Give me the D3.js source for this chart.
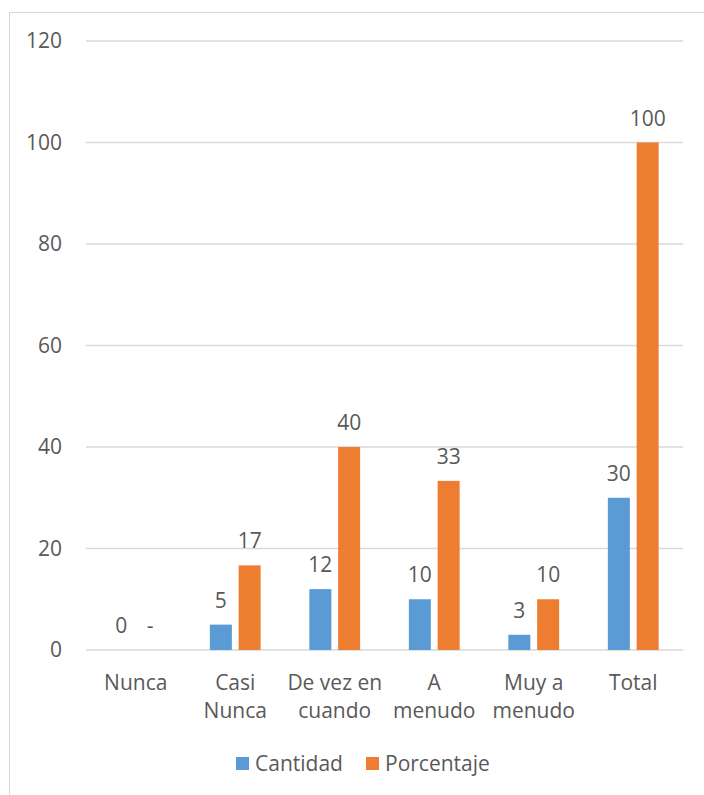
<!DOCTYPE html>
<html lang="es">
  <head>
    <meta charset="UTF-8">
    <title>Cantidad y porcentaje</title>
    <style>
    * {
      box-sizing: border-box;
      margin: 0;
      padding: 0;
    }

    body {
      background: #fff;
    }

    svg text {
      font-family: "Open Sans", sans-serif;
      font-size: 21px;
      fill: #595959;
    }

    .grid line {
      stroke: #d9d9d9;
      stroke-width: 1.3px;
    }
    </style>
  </head>
  <body>
    <svg width="704" height="795"></svg>
    <script src="https://d3js.org/d3.v7.min.js"></script>
    <script>
      const categories = ["Nunca", "Casi Nunca", "De vez en cuando", "A menudo", "Muy a menudo", "Total"];
      const categoryLines = [["Nunca"], ["Casi", "Nunca"], ["De vez en", "cuando"], ["A", "menudo"], ["Muy a", "menudo"], ["Total"]];
      const cantidad = [0, 5, 12, 10, 3, 30];
      const porcentaje = [0, 16.67, 40, 33.33, 10, 100];
      const seriesNames = ["Cantidad", "Porcentaje"];
      const colors = ["#5b9bd5", "#ed7d31"];
      const yTicks = [0, 20, 40, 60, 80, 100, 120];

      const svg = d3.select("svg");

      // chart frame (runs off the right and bottom of the picture)
      svg.append("rect")
        .attr("x", 9.5)
        .attr("y", 12.5)
        .attr("width", 720)
        .attr("height", 800)
        .attr("fill", "none")
        .attr("stroke", "#d9d9d9");

      const x0 = d3.scaleBand().domain(categories).range([86, 683]);
      const y = d3.scaleLinear().domain([0, 120]).range([650, 41]);

      const barW = 22;
      const offsets = [-14.4, 14.4];

      const grid = svg.append("g").attr("class", "grid");
      grid.selectAll("line")
        .data(yTicks)
        .enter().append("line")
        .attr("x1", 86)
        .attr("x2", 683)
        .attr("y1", d => y(d))
        .attr("y2", d => y(d));

      svg.append("g").selectAll("text")
        .data(yTicks)
        .enter().append("text")
        .attr("x", 62)
        .attr("y", d => y(d))
        .attr("dy", "0.35em")
        .attr("text-anchor", "end")
        .text(d => d);

      const series = [cantidad, porcentaje];

      series.forEach((values, s) => {
        const g = svg.append("g");
        g.selectAll("rect")
          .data(values)
          .enter().append("rect")
          .attr("x", (d, i) => x0(categories[i]) + x0.bandwidth() / 2 + offsets[s] - barW / 2)
          .attr("y", d => y(d))
          .attr("width", barW)
          .attr("height", d => y(0) - y(d))
          .attr("fill", colors[s]);

        g.selectAll("text")
          .data(values)
          .enter().append("text")
          .attr("x", (d, i) => x0(categories[i]) + x0.bandwidth() / 2 + offsets[s])
          .attr("y", d => y(d) - 17)
          .attr("text-anchor", "middle")
          .text(d => s === 1 ? (d === 0 ? "-" : d3.format(".0f")(d)) : d);
      });

      // category labels
      const cat = svg.append("g").selectAll("text")
        .data(categories)
        .enter().append("text")
        .attr("text-anchor", "middle")
        .attr("x", d => x0(d) + x0.bandwidth() / 2)
        .attr("y", 690);

      cat.selectAll("tspan")
        .data((d, i) => categoryLines[i])
        .enter().append("tspan")
        .attr("x", function() { return this.parentNode.getAttribute("x"); })
        .attr("dy", (d, i) => i === 0 ? 0 : 28)
        .text(d => d);

      // legend
      const legend = svg.append("g");
      const legendX = [236, 366];
      seriesNames.forEach((name, i) => {
        legend.append("rect")
          .attr("x", legendX[i])
          .attr("y", 757)
          .attr("width", 13)
          .attr("height", 13)
          .attr("fill", colors[i]);
        legend.append("text")
          .attr("x", legendX[i] + 19)
          .attr("y", 771)
          .text(name);
      });
    </script>
  </body>
</html>
